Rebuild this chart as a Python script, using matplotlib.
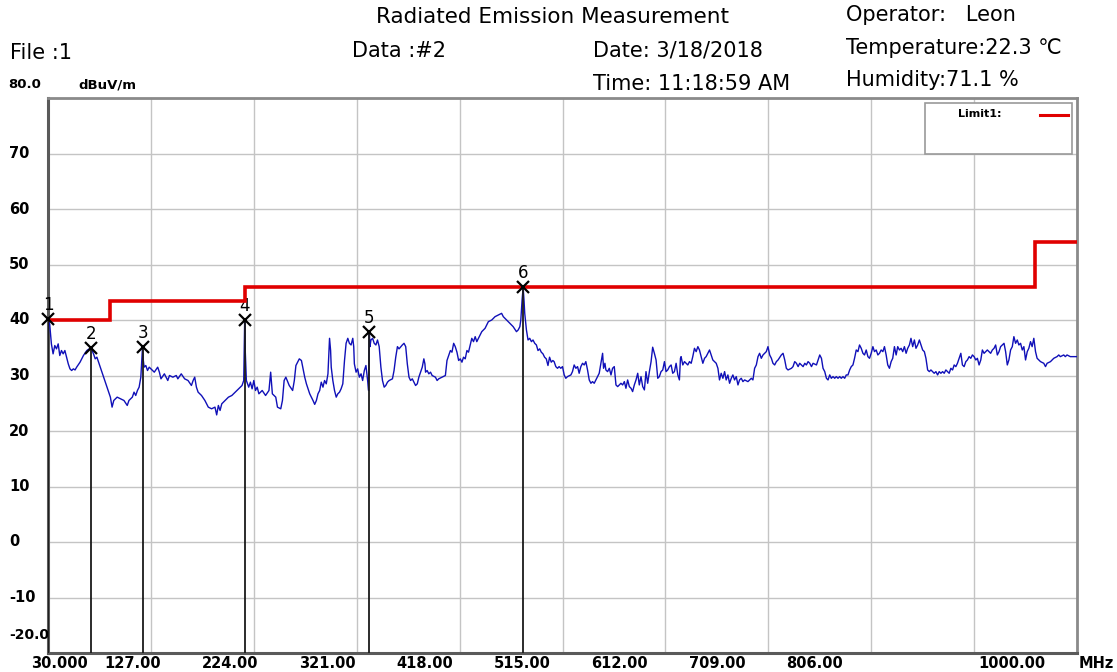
import matplotlib
matplotlib.use("Agg")
import matplotlib.pyplot as plt
import matplotlib.transforms as mtransforms
from matplotlib.patches import Rectangle

# scan trace (MHz, dBuV/m)
freq = [
    30.0, 31.6, 33.2, 34.8, 36.4, 38.0, 39.6, 41.1, 42.7, 44.3, 45.9, 47.5, 49.1, 50.7,
    52.3, 53.9, 55.5, 57.0, 60.2, 63.4, 66.6, 70.4, 72.9, 74.5, 76.1, 77.7, 79.3, 82.5,
    85.7, 88.8, 90.4, 92.0, 95.2, 98.4, 101.6, 104.7, 106.3, 109.5, 111.1, 112.7, 114.3,
    115.9, 117.5, 119.1, 119.7, 120.6, 122.2, 123.8, 125.4, 127.0, 130.2, 133.4, 135.0,
    136.5, 139.7, 142.9, 144.5, 147.7, 150.9, 152.4, 155.6, 158.8, 162.0, 165.2, 166.8,
    168.3, 169.9, 171.5, 174.7, 177.9, 181.1, 184.2, 187.4, 189.0, 190.6, 192.2, 193.8,
    197.0, 200.1, 203.3, 206.5, 209.7, 212.9, 214.5, 215.4, 216.0, 217.0, 219.2, 220.8,
    222.4, 224.0, 225.6, 227.2, 228.8, 231.9, 235.1, 238.3, 239.9, 241.5, 244.7, 246.3,
    249.4, 251.0, 252.6, 254.2, 257.4, 260.6, 262.2, 263.7, 266.9,
    268.9, 270.5, 272.0, 273.6, 276.7, 279.8, 281.4, 283.0, 284.5, 286.1, 287.6, 289.2,
    290.7, 292.3, 293.9, 295.4, 296.4, 297.0, 298.5, 300.1, 301.7, 303.2, 304.8, 306.3,
    307.9, 309.5, 311.0, 312.6, 314.1, 315.7, 317.3, 318.2, 318.8, 320.4, 321.9, 323.5,
    325.1, 326.6, 328.2, 329.7, 331.3, 332.2, 332.9, 333.5, 334.4, 336.0, 337.5, 339.1,
    340.6, 342.2, 343.8, 345.3, 346.9, 348.4, 350.0, 351.6, 354.7, 356.2, 357.8, 359.4,
    360.9, 364.0, 365.6, 367.2, 368.7, 370.3, 371.8, 373.4, 376.5, 378.1, 379.6, 381.2,
    382.8, 384.3, 385.3, 385.9, 387.4, 389.0, 390.6, 392.1, 395.2, 396.8, 398.3, 401.5,
    404.6, 406.1, 407.7, 409.3, 410.8, 412.4, 413.9, 415.5, 417.1, 418.6, 420.2, 421.7,
    423.3, 424.9, 426.4, 428.0, 429.5, 431.1, 432.7, 434.2, 435.8, 438.9, 442.0, 445.1,
    448.3, 451.4, 454.5, 457.6, 459.2, 462.3, 465.4, 468.5, 471.6, 473.2, 474.8, 475.7,
    476.9, 477.9, 478.8, 479.4, 481.0, 482.5, 484.1, 485.7, 487.2, 488.8, 490.4, 491.9,
    493.5, 495.0, 496.6, 498.1, 499.7, 501.3, 502.8, 504.4, 505.9,
    507.1, 508.7, 510.3, 511.8, 513.4, 515.0, 516.6, 518.1, 519.7, 522.9, 524.4, 526.0,
    527.6, 529.2, 530.7, 532.3, 533.9, 535.5, 537.0, 538.6, 540.2, 541.8, 543.3, 544.9,
    548.1, 549.6, 551.2, 552.8, 553.7, 555.0, 555.9, 557.5, 559.1, 560.7, 562.2, 563.8,
    565.4, 567.0, 568.5, 570.1, 571.7, 573.3, 574.8, 576.4, 578.0, 579.6, 581.1, 582.7,
    584.3, 585.9, 587.4, 589.0, 590.6, 592.2, 593.7, 595.3, 596.9, 598.5, 600.0, 601.6,
    603.2, 604.8, 606.3, 607.9, 609.5, 611.1, 612.6, 614.2, 615.8, 617.4, 618.9, 620.5,
    622.1, 623.7, 625.2, 626.2, 626.8, 628.4, 630.0, 631.5, 633.1, 634.7, 636.3, 637.8,
    639.4, 641.0, 642.6, 644.1, 645.7, 647.3, 648.9, 650.4, 652.0, 653.6, 655.2, 656.7,
    658.3, 659.9, 661.5, 663.0, 664.6, 666.2, 667.8, 669.3, 670.9, 672.5, 674.1, 675.6,
    677.2, 678.8, 680.4, 681.9, 683.5, 685.1, 686.7, 689.8, 691.4, 693.0, 694.5, 696.1,
    697.7, 699.3, 700.8, 702.4, 704.0, 705.6, 707.1, 708.7, 710.3, 711.9, 713.4, 715.0,
    716.6, 718.2, 721.3, 722.9, 724.5, 726.0, 727.6, 730.8, 732.3, 733.9, 735.5, 737.1,
    738.6, 740.2, 741.8, 743.4, 744.9, 746.5, 748.1, 749.7, 751.2,
    754.4, 755.9, 757.5, 759.1, 760.6, 762.2, 763.8, 765.3, 766.9, 768.4, 770.0, 771.6,
    773.1, 774.7, 776.3, 777.8, 779.4, 781.0, 782.5, 784.1, 785.7, 787.2, 788.8, 790.3,
    791.9, 793.5, 795.0, 796.6, 798.2, 799.7, 801.3, 802.9, 804.4, 806.0, 807.6, 809.1,
    810.7, 812.3, 813.8, 815.4, 817.0, 818.5, 820.1, 821.6, 823.2, 824.8, 826.3, 827.9,
    829.5, 831.0, 832.6, 834.2, 835.7, 837.3, 838.9, 840.4, 842.0, 843.5, 845.1, 846.7,
    848.2, 849.8, 851.4, 852.9, 854.5, 856.1, 857.6, 859.2, 860.8, 862.3, 863.9, 865.4,
    867.0, 868.6, 870.1, 871.7, 873.3, 874.8, 876.4, 878.0, 879.5, 881.1, 882.7, 884.2,
    885.8, 887.3, 888.9, 890.5, 892.0, 893.6, 895.2, 896.7, 898.3, 899.9, 901.4, 903.0,
    904.6, 906.1, 907.7, 909.3, 910.8, 912.4, 914.0, 915.5, 917.1, 918.6, 920.2, 921.8,
    923.3, 924.9, 926.5, 928.0, 929.6, 931.2, 932.7, 934.3, 935.8, 937.4, 939.0, 940.5,
    942.1, 943.7, 945.2, 946.8, 948.4, 949.9, 951.5, 953.1, 954.6, 956.2, 957.7, 959.3,
    960.9, 962.4, 964.0, 965.6, 968.7, 970.3, 971.8, 975.0, 978.1, 981.2, 982.8, 984.3,
    987.5, 989.0, 990.6, 993.7, 996.9, 1000.0,
]
level = [
    40.2, 39.2, 35.7, 33.9, 35.4, 34.8, 35.7, 33.6, 34.5, 33.9, 34.5, 33.3, 32.1, 31.2,
    30.9, 31.2, 31.0, 31.5, 32.4, 33.6, 34.5, 35.0, 33.9, 33.0, 33.3, 32.4, 31.5, 29.7,
    27.9, 26.1, 24.3, 25.5, 26.1, 25.8, 25.5, 24.6, 25.5, 26.1, 27.0, 26.4, 27.3,
    27.9, 29.7, 35.1, 33.0, 31.5, 31.8, 30.9, 31.5, 31.2, 30.6, 31.5, 30.6,
    29.4, 30.3, 29.1, 30.0, 29.7, 30.0, 29.4, 30.3, 29.4, 29.1, 28.2, 29.1,
    29.7, 27.9, 27.0, 26.4, 25.5, 24.3, 24.0, 24.3, 22.9, 24.6, 23.7, 24.9,
    25.5, 26.1, 26.4, 27.0, 27.6, 28.2, 29.1, 40.0, 34.2, 29.1, 27.9, 28.8,
    27.6, 29.1, 27.3, 27.9, 26.7, 27.3, 26.4, 27.3, 30.6, 26.7, 26.1, 24.3,
    24.0, 25.5, 29.1, 29.7, 28.2, 27.3, 29.1, 31.8, 33.0,
    32.7, 31.2, 29.7, 28.5, 26.7, 25.5, 24.8, 25.5, 26.7, 27.3, 28.8, 27.9,
    29.1, 28.5, 30.3, 36.7, 34.5, 31.5, 29.1, 27.3, 26.1, 26.7, 27.0, 27.6,
    28.5, 32.7, 35.8, 36.7, 35.8, 35.5, 36.7, 35.2, 32.1, 30.6, 31.2, 29.7,
    30.3, 29.1, 30.9, 31.8, 29.1, 27.3, 37.9, 35.2, 36.4, 36.7, 35.8, 35.5,
    36.4, 35.2, 31.5, 29.1, 27.9, 28.2, 28.8, 29.1, 29.4, 30.9, 33.3, 35.2,
    34.8, 35.5, 35.8, 35.2, 32.1, 29.7, 29.1, 29.4, 28.2, 28.5, 29.7, 30.6,
    31.5, 33.0, 32.1, 30.6, 30.9, 30.3, 30.6, 30.0, 29.7, 29.1, 29.4, 29.7,
    30.0, 32.7, 33.6, 34.5, 34.2, 35.8, 35.2, 34.2, 32.7, 33.0, 32.4, 33.3,
    33.0, 34.5, 34.2, 35.5, 36.7, 36.1, 37.0, 36.1, 36.7, 37.9, 38.5, 39.7,
    40.0, 40.6, 40.9, 41.2, 40.6, 40.0, 39.4, 38.8, 37.9, 38.2, 38.8, 40.0,
    43.6, 45.9, 43.3, 41.2, 38.2, 36.4, 36.7, 36.1, 36.4, 35.8, 35.5, 34.5,
    34.8, 34.2, 33.9, 33.3, 33.0, 31.8, 33.3, 32.4, 32.7,
    32.5, 31.6, 31.3, 31.6, 31.3, 31.6, 30.1, 29.5, 29.8, 30.1, 30.7, 31.9,
    31.3, 31.6, 30.4, 31.6, 32.2, 31.9, 32.5, 31.0, 29.2, 28.6, 28.9, 28.6,
    29.8, 30.4, 32.2, 34.0, 31.3, 32.2, 31.0, 30.7, 31.3, 30.1, 31.3, 31.6,
    28.3, 28.0, 28.3, 28.6, 28.3, 28.9, 27.7, 29.2, 28.0, 27.7, 27.1, 28.3,
    29.2, 30.4, 28.3, 29.8, 28.0, 27.4, 30.7, 28.6, 30.7, 32.5, 35.1, 34.0,
    32.8, 29.5, 29.8, 30.7, 31.0, 32.5, 30.7, 31.0, 31.6, 31.9, 30.4, 30.7,
    32.2, 30.1, 29.2, 33.1, 33.4, 31.9, 32.5, 32.2, 31.9, 32.5, 32.2, 33.4,
    34.9, 34.3, 35.2, 34.6, 33.4, 32.2, 33.1, 33.4, 34.0, 34.6, 33.7, 32.8,
    32.5, 32.2, 31.3, 29.2, 30.4, 29.5, 30.7, 29.2, 30.1, 28.6, 29.5, 30.1,
    29.2, 29.8, 28.3, 29.2, 29.5, 28.9, 29.2, 28.9, 29.2, 29.5, 29.2, 31.3,
    31.9, 33.4, 34.0, 33.1, 33.7, 34.0, 34.3, 35.2, 33.7, 33.1, 32.2, 31.9,
    32.5, 32.8, 33.7, 34.0, 32.8, 31.3, 31.0, 31.3, 31.6, 32.5, 32.2, 31.6,
    32.2, 31.9, 31.6, 32.2, 31.9, 32.5, 32.2, 31.6, 32.2,
    31.9, 32.8, 33.7, 33.1, 31.3, 30.7, 29.5, 29.2, 30.1, 29.5, 29.8, 29.5,
    29.8, 29.5, 29.8, 29.5, 29.8, 29.5, 30.1, 30.1, 31.0, 31.6, 31.9, 33.1,
    34.6, 34.3, 35.5, 34.9, 34.0, 33.7, 34.6, 33.4, 33.1, 34.0, 35.2, 34.3,
    34.6, 33.7, 34.0, 34.6, 34.3, 35.2, 33.7, 31.9, 31.3, 32.5, 33.1, 35.2,
    33.7, 35.2, 34.6, 34.9, 34.3, 35.2, 34.0, 34.9, 35.5, 36.7, 35.2, 36.4,
    34.9, 35.5, 36.4, 35.5, 34.6, 34.3, 33.1, 31.0, 30.7, 31.0, 30.7, 30.4,
    30.7, 30.1, 30.7, 30.4, 30.7, 30.4, 31.0, 30.7, 30.4, 31.3, 31.0, 31.9,
    31.6, 32.2, 33.1, 34.0, 31.9, 31.6, 32.5, 32.8, 33.4, 33.1, 33.7, 33.4,
    32.8, 33.1, 31.9, 32.8, 34.6, 34.0, 34.3, 34.6, 34.3, 34.0, 34.6, 34.9,
    35.5, 33.7, 34.3, 35.2, 35.5, 35.8, 34.3, 31.9, 32.8, 34.6, 35.2, 37.0,
    35.8, 36.4, 35.5, 35.8, 34.6, 35.2, 32.8, 34.3, 34.9, 36.1, 35.2, 36.7,
    34.3, 33.1, 32.8, 32.5, 32.2, 31.6, 32.2, 32.5, 33.1, 33.4, 33.7, 33.4,
    33.7, 33.4, 33.7, 33.4, 33.4, 33.4,
]

# limit line (step edges and levels)
limit_edges = [30, 88, 216, 960, 1000]
limit_levels = [40, 43.5, 46, 54]

# peak markers
mk_freq = [30.0, 70.4, 119.1, 215.4, 332.9, 477.9]
mk_level = [40.2, 35.0, 35.1, 40.0, 37.9, 45.9]
mk_names = ["1", "2", "3", "4", "5", "6"]

xticks = [30, 127, 224, 321, 418, 515, 612, 709, 806, 903, 1000]
xlabels = ["30.000", "127.00", "224.00", "321.00", "418.00", "515.00",
           "612.00", "709.00", "806.00", "", "1000.00"]
yticks = [70, 60, 50, 40, 30, 20, 10, 0, -10]

W, H = 1117, 672
fig = plt.figure(figsize=(W / 100, H / 100), dpi=100)
ax = fig.add_axes([48 / W, 1 - 653 / H, (1077 - 48) / W, (653 - 98) / H])
ax.set_xlim(30, 1000)
ax.set_ylim(-20, 80)

ax.set_xticks(xticks)
ax.set_yticks(range(-20, 81, 10))
ax.grid(True, color="#c4c4c4", lw=1.0)
ax.tick_params(length=0, labelbottom=False, labelleft=False)
for side in ["left", "bottom"]:
    ax.spines[side].set_color("#5a5a5a")
    ax.spines[side].set_linewidth(2.2)
for side in ["top", "right"]:
    ax.spines[side].set_color("#8a8a8a")
    ax.spines[side].set_linewidth(2.0)

ax.plot(freq, level, color="#1010b8", lw=1.0, zorder=3)
ax.stairs(limit_levels, limit_edges, baseline=None, color="#e00000", lw=2.6, zorder=4)

ax.vlines(mk_freq, -20, mk_level, colors="#1a1a1a", lw=1.3, zorder=5)
ax.plot(mk_freq, mk_level, "x", color="black", ms=9, mew=1.6, zorder=6, clip_on=False)
for f, v, n in zip(mk_freq, mk_level, mk_names):
    ax.annotate(n, (f, v), xytext=(0, 10), textcoords="offset points",
                ha="center", va="center", fontsize=12, family="DejaVu Sans")

# legend box
ax.add_patch(Rectangle((0.8526, 0.899), 0.1426, 0.092, transform=ax.transAxes,
                       facecolor="white", edgecolor="#9a9a9a", lw=1.2, zorder=7))
ax.text(0.8846, 0.971, "Limit1:", transform=ax.transAxes, ha="left", va="center",
        fontsize=8, fontweight="bold", family="DejaVu Sans", zorder=8)
ax.plot([0.9641, 0.9913], [0.969, 0.969], transform=ax.transAxes,
        color="#e00000", lw=2.2, zorder=8)

# axis labels drawn as text
ytr = mtransforms.blended_transform_factory(fig.transFigure, ax.transData)
for v in yticks:
    ax.text(9 / W, v, str(v), transform=ytr, ha="left", va="center",
            fontsize=10.5, fontweight="bold", family="DejaVu Sans")
ax.annotate("-20.0", (9 / W, -20), xycoords=ytr, xytext=(0, 8),
            textcoords="offset points", ha="left", va="bottom",
            fontsize=10, fontweight="bold", family="DejaVu Sans")
ax.annotate("80.0", (8 / W, 80), xycoords=ytr, xytext=(0, 5),
            textcoords="offset points", ha="left", va="bottom",
            fontsize=9.5, fontweight="bold", family="DejaVu Sans")
ax.annotate("dBuV/m", (78 / W, 80), xycoords=ytr, xytext=(0, 5),
            textcoords="offset points", ha="left", va="bottom",
            fontsize=9.5, fontweight="bold", family="DejaVu Sans")

xtr = mtransforms.blended_transform_factory(ax.transData, fig.transFigure)
ylab = 1 - 656 / H
for t, lab in zip(xticks, xlabels):
    if not lab:
        continue
    if t == 30:
        x, ha = 14, "left"
    elif t == 1000:
        x, ha = 970, "right"
    else:
        x, ha = 0.9475 * t - 11, "center"
    ax.text(x, ylab, lab, transform=xtr, ha=ha, va="top",
            fontsize=10.5, fontweight="bold", family="DejaVu Sans")
ax.text(1001.5, ylab, "MHz", transform=xtr, ha="left", va="top",
        fontsize=10.5, fontweight="bold", family="DejaVu Sans")

# header
hfont = dict(family=["DejaVu Sans"], fontsize=15, va="center")
fig.text(553 / W, 1 - 17 / H, "Radiated Emission Measurement", ha="center",
         **{**hfont, "fontsize": 15.5})
fig.text(10 / W, 1 - 53 / H, "File :1", ha="left", **hfont)
fig.text(352 / W, 1 - 51 / H, "Data :#2", ha="left", **hfont)
fig.text(593 / W, 1 - 51 / H, "Date: 3/18/2018", ha="left", **hfont)
fig.text(593 / W, 1 - 84 / H, "Time: 11:18:59 AM", ha="left", **hfont)
fig.text(846 / W, 1 - 15 / H, "Operator:   Leon", ha="left", **hfont)
fig.text(846 / W, 1 - 48 / H, "Temperature:22.3 \u2103", ha="left", **hfont)
fig.text(846 / W, 1 - 80 / H, "Humidity:71.1 %", ha="left", **hfont)

fig.savefig("out.png", dpi=100)
